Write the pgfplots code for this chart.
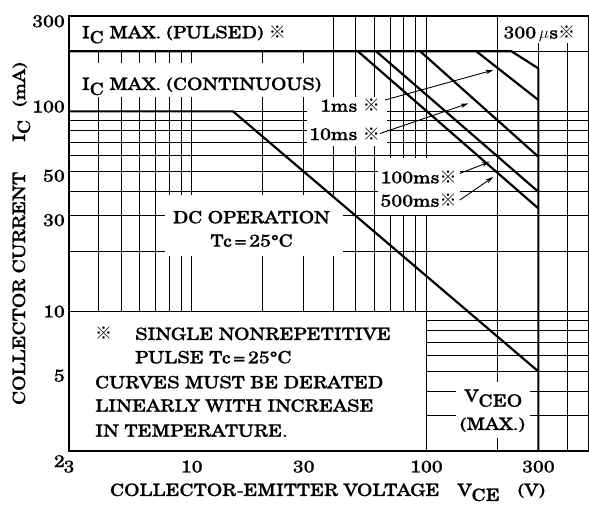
\documentclass[border=0pt]{standalone}
\usepackage{fontspec}
\setmainfont{TeX Gyre Schola}[FakeStretch=1.15, FakeBold=0.8]
\newfontfamily\cjk{Noto Sans CJK JP}
\usepackage{pgfplots}
\pgfplotsset{compat=1.18}
\usetikzlibrary{arrows.meta}
\newcommand{\kome}{{\cjk ※}}
\newcommand{\sub}[1]{\raisebox{-5bp}{#1}}
\newcommand{\fs}{\fontsize{17bp}{20bp}\selectfont}
\begin{document}
\begin{tikzpicture}[font=\fs, lbl/.style={inner sep=0pt, font=\fs}]
\begin{axis}[
  at={(0,0)}, anchor=south west,
  scale only axis, width=520bp, height=435bp,
  xmode=log, ymode=log,
  xmin=3, xmax=493, ymin=2, ymax=300,
  xtick={3,10,30,100,300}, xticklabels={3,10,30,100,300},
  ytick={2,5,10,30,50,100,300},
  yticklabels={\raisebox{-10bp}{2},\raisebox{-4bp}{5},10,\raisebox{-4bp}{30},\raisebox{-4bp}{50},\raisebox{5bp}{100},\raisebox{-5bp}{300}},
  minor xtick={4,5,6,7,8,9,20,40,50,60,70,80,90,200,400},
  minor ytick={3,4,6,7,8,9,20,40,60,70,80,90,200},
  grid=both,
  major grid style={black, line width=0.9bp},
  minor grid style={black, line width=0.6bp},
  major tick length=0pt, minor tick length=0pt,
  tick label style={font=\fs, inner sep=0pt, text height=12.3bp, text depth=0pt},
  xticklabel style={anchor=north, yshift=-9bp},
  yticklabel style={anchor=east, xshift=-4bp},
  axis line style={line width=1.3bp},
  clip=false,
]
% white label areas
\fill[white] (axis cs:3,2) rectangle (axis cs:100,10);
\fill[white] (rel axis cs:0,0.9172) rectangle (rel axis cs:0.4827,1);
\fill[white] (rel axis cs:0,0.8138) rectangle (rel axis cs:0.5077,0.8920);
\fill[white] (rel axis cs:0.4577,0.7011) rectangle (rel axis cs:0.6115,0.8138);
\fill[white] (rel axis cs:0.8269,0.9379) rectangle (rel axis cs:1,1);
\fill[white] (rel axis cs:0.5942,0.5425) rectangle (rel axis cs:0.7519,0.6736);
\fill[white] (rel axis cs:0.1846,0.4483) rectangle (rel axis cs:0.5269,0.5885);
\fill[white] (rel axis cs:0.7442,0.0299) rectangle (rel axis cs:0.8865,0.1586);
\draw[black, line width=0.9bp] (axis cs:3,10) -- (axis cs:100,10) -- (axis cs:100,2);

% safe operating area curves
\addplot[black, line width=2.2bp, line join=round] coordinates {(3,100) (15,100) (300,5)};
\addplot[black, line width=2.2bp, line join=round] coordinates {(3,200) (230,200) (300,164) (300,2)};
\addplot[black, line width=2.2bp] coordinates {(163,200) (300,114)};
\addplot[black, line width=2.2bp] coordinates {(94,200) (300,59.3)};
\addplot[black, line width=2.2bp] coordinates {(61,200) (300,39.6)};
\addplot[black, line width=2.2bp] coordinates {(51,200) (300,32.7)};

% arrows
\draw[-{Stealth[length=8bp,width=4.5bp]}, line width=0.9bp] (axis cs:66.6,114) -- (axis cs:193,161);
\draw[-{Stealth[length=8bp,width=4.5bp]}, line width=0.9bp] (axis cs:63.4,77.5) -- (axis cs:151,109.6);
\draw[-{Stealth[length=8bp,width=4.5bp]}, line width=0.9bp] (axis cs:138.7,48.9) -- (axis cs:186.3,56.0);
\draw[-{Stealth[length=8bp,width=4.5bp]}, line width=0.9bp] (axis cs:138.7,36.0) -- (axis cs:193,47.0);

% texts
\node[lbl, anchor=base west] at (rel axis cs:0.0244,0.9487) {I\sub{C} MAX.\ (PULSED) \kome};
\node[lbl, anchor=base west] at (rel axis cs:0.0244,0.8299) {I\sub{C} MAX.\ (CONTINUOUS)};
\node[lbl, anchor=base west] at (rel axis cs:0.8352,0.9483) {300\,$\mu$s\kome};
\node[lbl, anchor=base east] at (rel axis cs:0.5981,0.7800) {1ms \kome};
\node[lbl, anchor=base east] at (rel axis cs:0.5981,0.7149) {10ms \kome};
\node[lbl, anchor=base east] at (rel axis cs:0.7456,0.6154) {100ms\kome};
\node[lbl, anchor=base east] at (rel axis cs:0.7456,0.5616) {500ms\kome};
\node[lbl, anchor=base] at (rel axis cs:0.3510,0.5234) {DC OPERATION};
\node[lbl, anchor=base] at (rel axis cs:0.3514,0.4697) {Tc\,=\,25°C};
\node[lbl, anchor=base] at (rel axis cs:0.8160,0.1133) {V\sub{CEO}};
\node[lbl, anchor=base] at (rel axis cs:0.8144,0.0483) {(MAX.)};

\node[lbl, anchor=base west] at (rel axis cs:0.0500,0.2552) {\kome};
\node[lbl, anchor=base west] at (rel axis cs:0.1269,0.2552) {SINGLE NONREPETITIVE};
\node[lbl, anchor=base west] at (rel axis cs:0.1269,0.2016) {PULSE Tc\,=\,25°C};
\node[lbl, anchor=base west] at (rel axis cs:0.0500,0.1441) {CURVES MUST BE DERATED};
\node[lbl, anchor=base west] at (rel axis cs:0.0500,0.0903) {LINEARLY WITH INCREASE};
\node[lbl, anchor=base west] at (rel axis cs:0.0500,0.0329) {IN TEMPERATURE.};

% axis titles
\node[lbl, anchor=base west] at (rel axis cs:0.0788,-0.1034) {COLLECTOR-EMITTER VOLTAGE\hspace{18bp}V\sub{CE}\hspace{18bp}(V)};
\node[lbl, anchor=base west, rotate=90] at (rel axis cs:-0.0846,0.1057) {COLLECTOR CURRENT};
\node[lbl, anchor=base west, rotate=90] at (rel axis cs:-0.0846,0.7103) {I\sub{C}};
\node[lbl, anchor=base west, rotate=90] at (rel axis cs:-0.0846,0.7908) {\fs(mA)};

\draw[line width=1.3bp] (rel axis cs:0,0) rectangle (rel axis cs:1,1);
\end{axis}
\pgfresetboundingbox
\path[use as bounding box] (-69bp,-58bp) rectangle (520bp,451bp);
\end{tikzpicture}
\end{document}
